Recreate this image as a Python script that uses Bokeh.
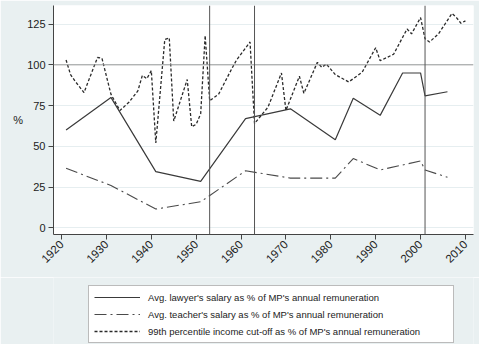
import math
from bokeh.plotting import figure
from bokeh.layouts import column
from bokeh.models import Range1d, Span, Legend, LegendItem, FixedTicker
from bokeh.embed import file_html
from bokeh.resources import INLINE

# ---- data ----
lawyer_years = [1921, 1931, 1941, 1951, 1961, 1971, 1981, 1985, 1991, 1996, 2000, 2001, 2006]
lawyer_vals = [60, 80, 34.5, 28.5, 67, 73, 54, 79.5, 69, 95, 95, 81, 83.5]

teacher_years = [1921, 1931, 1941, 1951, 1961, 1971, 1981, 1985, 1991, 2000, 2001, 2006]
teacher_vals = [36.5, 26, 11.5, 16, 35, 30.5, 30.5, 42.5, 35.5, 41, 35.5, 31]

top1_years = [1921, 1922, 1923, 1925, 1928, 1929, 1931, 1933, 1935, 1937, 1938, 1939, 1940,
              1941, 1943, 1944, 1945, 1948, 1949, 1950, 1951, 1952, 1953, 1955, 1958, 1959,
              1962, 1963, 1966, 1969, 1970, 1973, 1974, 1977, 1978, 1979, 1981, 1984, 1987,
              1990, 1991, 1994, 1997, 1998, 2000, 2001, 2002, 2004, 2007, 2008, 2009, 2010]
top1_vals = [103, 94, 90, 83, 104.5, 104, 82, 72, 77, 84, 93.5, 91.5, 96.5,
             52, 115.5, 116.5, 65.5, 91, 62, 63.5, 70, 118, 78, 82, 98, 103,
             114, 64, 74, 95, 72, 93, 82.5, 101.5, 98.5, 100.5, 94, 89.5, 95.5,
             110.5, 102.5, 106.5, 122, 119, 129, 116, 114, 119, 131.5, 129, 125.5, 127]

ref_years = [1953, 1963, 2001]
ref_value = 100
y_ticks = [0, 25, 50, 75, 100, 125]
x_ticks = [1920, 1930, 1940, 1950, 1960, 1970, 1980, 1990, 2000, 2010]

labels = ["Avg. lawyer's salary as % of MP's annual remuneration",
          "Avg. teacher's salary as % of MP's annual remuneration",
          "99th percentile income cut-off as % of MP's annual remuneration"]

BG = "#e9f0f1"
INK = "#222222"
FONT = "Liberation Sans"

series = [(lawyer_years, lawyer_vals), (teacher_years, teacher_vals), (top1_years, top1_vals)]
styles = [dict(line_color="#3a3a3a", line_width=1.2),
          dict(line_color="#4a4a4a", line_width=1.1, line_dash="12 4 2 4"),
          dict(line_color="#2a2a2a", line_width=1.3, line_dash="3 2")]

p = figure(width=479, height=277, output_backend="svg", toolbar_location=None,
           x_range=Range1d(1918.2, 2011.8), y_range=Range1d(-4.1, 136.4),
           min_border_left=53, min_border_right=6, min_border_top=5, min_border_bottom=43)
p.border_fill_color = BG
p.background_fill_color = "white"
p.outline_line_color = None

# grid
p.xgrid.grid_line_color = None
p.ygrid.grid_line_color = "#e6eef0"
p.ygrid.ticker = FixedTicker(ticks=y_ticks)

# axes
for ax in (p.xaxis[0], p.yaxis[0]):
    ax.axis_line_color = "#444444"
    ax.major_tick_line_color = "#444444"
    ax.major_tick_out = 5
    ax.major_tick_in = 0
    ax.minor_tick_line_color = None
    ax.major_label_text_font = FONT
    ax.major_label_text_color = INK
    ax.major_label_standoff = 3
p.xaxis.major_label_text_font_size = "11.5px"
p.yaxis.major_label_text_font_size = "11px"
p.xaxis.ticker = FixedTicker(ticks=x_ticks)
p.yaxis.ticker = FixedTicker(ticks=y_ticks)
p.xaxis.major_label_orientation = math.pi / 4
p.yaxis.major_label_orientation = "horizontal"
p.yaxis.axis_label = "%"
p.yaxis.axis_label_orientation = "horizontal"
p.yaxis.axis_label_text_font = FONT
p.yaxis.axis_label_text_font_style = "normal"
p.yaxis.axis_label_text_font_size = "11px"
p.yaxis.axis_label_text_color = INK
p.yaxis.axis_label_standoff = 1

# reference lines
p.add_layout(Span(location=ref_value, dimension="width", line_color="#9a9a9a", line_width=1))
for yr in ref_years:
    p.add_layout(Span(location=yr, dimension="height", line_color="#555555", line_width=1))

# series
for (xs, ys), s in zip(series, styles):
    p.line(xs, ys, **s)

# legend strip below the chart: same series drawn outside its visible range,
# so only the legend shows
q = figure(width=479, height=67, output_backend="svg", toolbar_location=None,
           x_range=Range1d(0, 1), y_range=Range1d(0, 1),
           min_border_left=0, min_border_right=0, min_border_top=0, min_border_bottom=0,
           x_axis_location=None, y_axis_location=None)
q.border_fill_color = BG
q.background_fill_color = BG
q.outline_line_color = None
q.grid.visible = False
proxies = [q.line(xs, ys, **s) for (xs, ys), s in zip(series, styles)]

legend = Legend(items=[LegendItem(label=lab, renderers=[r]) for lab, r in zip(labels, proxies)],
                location=(35, 1), orientation="vertical")
legend.label_text_font = FONT
legend.label_text_font_size = "9.5px"
legend.label_text_color = INK
legend.glyph_width = 46
legend.glyph_height = 12
legend.label_height = 12
legend.label_width = 300
legend.label_standoff = 8
legend.spacing = 5
legend.padding = 5
legend.margin = 0
legend.border_line_color = "#777777"
legend.border_line_width = 1
legend.background_fill_color = "white"
legend.background_fill_alpha = 1
q.add_layout(legend)

layout = column(p, q, spacing=0)
open("out.html", "w").write(file_html(layout, INLINE))
